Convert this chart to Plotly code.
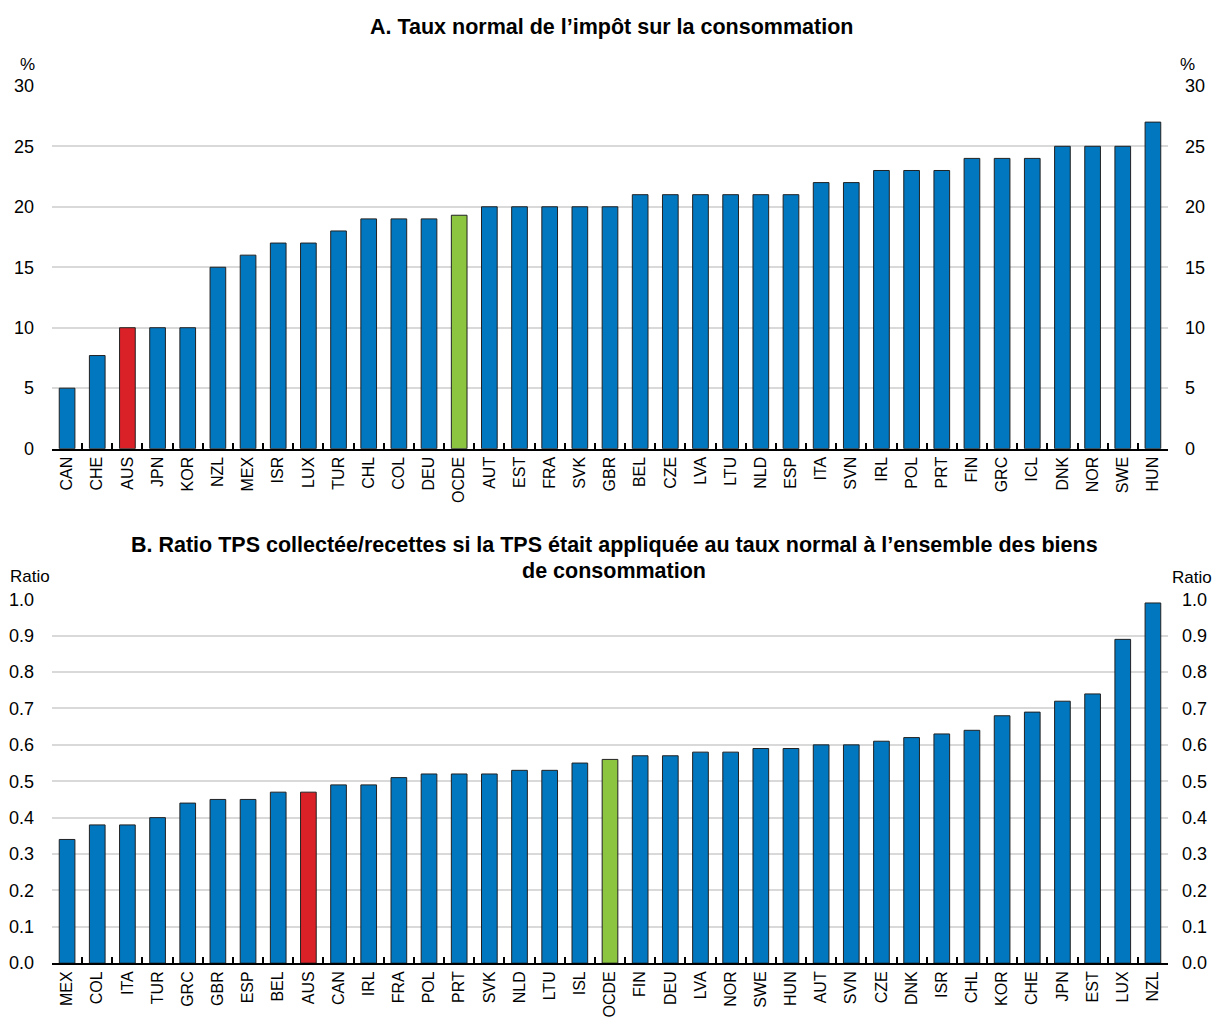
import plotly.graph_objects as go

# Panel A: standard consumption tax rate (%)
cats_a = ["CAN", "CHE", "AUS", "JPN", "KOR", "NZL", "MEX", "ISR", "LUX", "TUR", "CHL", "COL",
          "DEU", "OCDE", "AUT", "EST", "FRA", "SVK", "GBR", "BEL", "CZE", "LVA", "LTU", "NLD",
          "ESP", "ITA", "SVN", "IRL", "POL", "PRT", "FIN", "GRC", "ICL", "DNK", "NOR", "SWE", "HUN"]
vals_a = [5, 7.7, 10, 10, 10, 15, 16, 17, 17, 18, 19, 19,
          19, 19.3, 20, 20, 20, 20, 20, 21, 21, 21, 21, 21,
          21, 22, 22, 23, 23, 23, 24, 24, 24, 25, 25, 25, 27]

# Panel B: GST collected / revenue if GST applied at standard rate to all consumption
cats_b = ["MEX", "COL", "ITA", "TUR", "GRC", "GBR", "ESP", "BEL", "AUS", "CAN", "IRL", "FRA",
          "POL", "PRT", "SVK", "NLD", "LTU", "ISL", "OCDE", "FIN", "DEU", "LVA", "NOR", "SWE",
          "HUN", "AUT", "SVN", "CZE", "DNK", "ISR", "CHL", "KOR", "CHE", "JPN", "EST", "LUX", "NZL"]
vals_b = [0.34, 0.38, 0.38, 0.40, 0.44, 0.45, 0.45, 0.47, 0.47, 0.49, 0.49, 0.51,
          0.52, 0.52, 0.52, 0.53, 0.53, 0.55, 0.56, 0.57, 0.57, 0.58, 0.58, 0.59,
          0.59, 0.60, 0.60, 0.61, 0.62, 0.63, 0.64, 0.68, 0.69, 0.72, 0.74, 0.89, 0.99]

ticks_a = [0, 5, 10, 15, 20, 25, 30]
ticks_b = [0.0, 0.1, 0.2, 0.3, 0.4, 0.5, 0.6, 0.7, 0.8, 0.9, 1.0]

BLUE = "#0077bf"
RED = "#da2128"
GREEN = "#8cc641"
GRID = "#d9d9d9"
FONT = "Liberation Sans, Arial, sans-serif"
W, H = 1214, 1018


def colours(cats):
    return [RED if c == "AUS" else GREEN if c == "OCDE" else BLUE for c in cats]


def px_x(x):
    return x / W


def px_y(y):
    # page pixel row -> paper fraction (corrects the page's vertical offset/scale)
    return 1 - ((y - 8.5) / 0.982) / H


fig = go.Figure()
fig.add_trace(go.Bar(x=cats_a, y=vals_a, xaxis="x", yaxis="y",
                     marker=dict(color=colours(cats_a), line=dict(color="#222222", width=1)),
                     showlegend=False, hoverinfo="x+y"))
fig.add_trace(go.Bar(x=cats_b, y=vals_b, xaxis="x2", yaxis="y2",
                     marker=dict(color=colours(cats_b), line=dict(color="#222222", width=1)),
                     showlegend=False, hoverinfo="x+y"))
# empty traces so the right-hand value axes are drawn
fig.add_trace(go.Scatter(x=[cats_a[0]], y=[None], xaxis="x", yaxis="y3", showlegend=False,
                         hoverinfo="skip"))
fig.add_trace(go.Scatter(x=[cats_b[0]], y=[None], xaxis="x2", yaxis="y4", showlegend=False,
                         hoverinfo="skip"))

xdom = [px_x(52), px_x(1168)]
ydom_a = [px_y(451), px_y(85)]
ydom_b = [px_y(970), px_y(603)]

xcommon = dict(type="category", domain=xdom, range=[-0.5, 36.5], tickangle=-90, showgrid=False,
               showline=True, linecolor="#000000", linewidth=1.5,
               ticks="inside", tickson="boundaries", ticklen=6, tickcolor="#000000",
               tickwidth=1.5, tickfont=dict(family=FONT, size=16, color="#000000"),
               fixedrange=True)
ycommon = dict(showgrid=True, gridcolor=GRID, gridwidth=1.5, zeroline=False,
               showline=False, ticks="", tickfont=dict(family=FONT, size=18, color="#000000"),
               fixedrange=True)
yright = dict(side="right", showgrid=False, zeroline=False, showline=False, ticks="",
              tickfont=dict(family=FONT, size=18, color="#000000"), fixedrange=True)

fig.update_layout(
    width=W, height=H,
    margin=dict(l=0, r=0, t=0, b=0),
    paper_bgcolor="white", plot_bgcolor="white",
    bargap=0.48,
    xaxis=dict(anchor="y", **xcommon),
    yaxis=dict(domain=ydom_a, anchor="x", range=[0, 30], tickvals=ticks_a,
               ticklabelstandoff=17, **ycommon),
    yaxis3=dict(overlaying="y", anchor="x", range=[0, 30], tickvals=ticks_a,
                ticklabelstandoff=16, **yright),
    xaxis2=dict(anchor="y2", **xcommon),
    yaxis2=dict(domain=ydom_b, anchor="x2", range=[0, 1.0], tickvals=ticks_b,
                tickformat=".1f", ticklabelstandoff=17, **ycommon),
    yaxis4=dict(overlaying="y2", anchor="x2", range=[0, 1.0], tickvals=ticks_b,
                tickformat=".1f", ticklabelstandoff=13, **yright),
)

title_font = dict(family=FONT, size=21.5, color="#000000")
unit_font = dict(family=FONT, size=17, color="#000000")
ann = [
    dict(text="<b>A. Taux normal de l’impôt sur la consommation</b>", x=px_x(611), y=px_y(26),
         xanchor="center", yanchor="middle", font=title_font),
    dict(text="<b>B. Ratio TPS collectée/recettes si la TPS était appliquée au taux normal à l’ensemble des biens</b>",
         x=px_x(614), y=px_y(548), xanchor="center", yanchor="middle", font=title_font),
    dict(text="<b>de consommation</b>",
         x=px_x(614), y=px_y(574), xanchor="center", yanchor="middle", font=title_font),
    dict(text="%", x=px_x(27), y=px_y(63), xanchor="center", yanchor="middle", font=unit_font),
    dict(text="%", x=px_x(1187), y=px_y(63), xanchor="center", yanchor="middle", font=unit_font),
    dict(text="Ratio", x=px_x(30), y=px_y(580), xanchor="center", yanchor="middle", font=unit_font),
    dict(text="Ratio", x=px_x(1192), y=px_y(581), xanchor="center", yanchor="middle", font=unit_font),
]
for a in ann:
    a.update(xref="paper", yref="paper", showarrow=False)
fig.update_layout(annotations=ann)

# the page body gets no default margin so the figure fills the window exactly
fig.write_html("out.html", post_script="document.body.style.margin='0';")
